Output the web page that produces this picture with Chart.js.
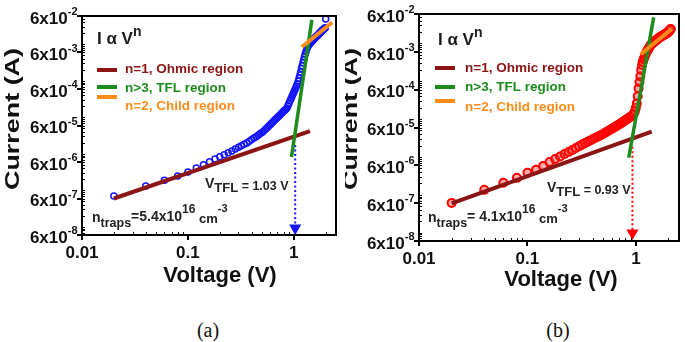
<!DOCTYPE html>
<html>
<head>
<meta charset="utf-8">
<script src="https://cdn.jsdelivr.net/npm/chart.js@4"></script>
<style>
  html, body { margin: 0; padding: 0; background: #fff; }
  body { width: 685px; height: 342px; position: relative; overflow: hidden; }
  canvas { position: absolute; top: 0; }
  .cap { position: absolute; top: 320px; line-height: 20px; font-family: "Liberation Serif", "Times New Roman", serif;
         font-size: 20px; color: #111; transform: translateX(-50%); }
</style>
</head>
<body>
<canvas id="chartA" width="345" height="300" style="left:0px"></canvas>
<canvas id="chartB" width="340" height="300" style="left:345px"></canvas>
<div class="cap" style="left:208px">(a)</div>
<div class="cap" style="left:558px">(b)</div>
<script>
// ---- data ----
const voltageA = [
  0.02,0.04,0.06,0.08,0.10,0.12,0.14,0.16,0.18,0.20,
  0.22,0.24,0.26,0.28,0.30,0.32,0.34,0.36,0.38,0.40,
  0.42,0.44,0.46,0.48,0.50,0.52,0.54,0.56,0.58,0.60,
  0.62,0.64,0.66,0.68,0.70,0.72,0.74,0.76,0.78,0.80,
  0.82,0.84,0.86,0.88,0.90,0.92,0.94,0.96,0.98,1.00,
  1.02,1.04,1.06,1.08,1.10,1.12,1.14,1.16,1.18,1.20,
  1.22,1.24,1.26,1.28,1.30,1.32,1.34,1.36,1.38,1.40,
  1.42,1.44,1.46,1.48,1.50,1.52,1.54,1.56,1.58,1.60,
  1.62,1.64,1.66,1.68,1.70,1.72,1.74,1.76,1.78,1.80,
  1.82,1.84,1.86,1.88,1.90,1.92,1.94,1.96,1.98,2.00
];
const currentA = [
  7.0e-7,1.32e-6,1.9e-6,2.5e-6,3.2e-6,4.08e-6,5.06e-6,6.11e-6,7.2e-6,8.34e-6,
  9.5e-6,1.08e-5,1.21e-5,1.36e-5,1.51e-5,1.67e-5,1.83e-5,2.0e-5,2.23e-5,2.47e-5,
  2.72e-5,2.97e-5,3.26e-5,3.54e-5,3.84e-5,4.22e-5,4.7e-5,5.22e-5,5.78e-5,6.38e-5,
  7.02e-5,7.69e-5,8.45e-5,9.23e-5,9.98e-5,1.08e-4,1.17e-4,1.27e-4,1.36e-4,1.47e-4,
  1.57e-4,1.68e-4,1.8e-4,2.09e-4,2.44e-4,2.84e-4,3.25e-4,3.73e-4,4.28e-4,4.91e-4,
  5.6e-4,6.37e-4,7.24e-4,8.24e-4,9.73e-4,1.19e-3,1.46e-3,1.75e-3,2.17e-3,2.61e-3,
  3.15e-3,3.79e-3,4.58e-3,5.43e-3,6.3e-3,7.2e-3,8.1e-3,8.9e-3,9.6e-3,1.02e-2,
  1.07e-2,1.12e-2,1.17e-2,1.22e-2,1.27e-2,1.32e-2,1.38e-2,1.44e-2,1.5e-2,1.56e-2,
  1.62e-2,1.67e-2,1.73e-2,1.79e-2,1.85e-2,1.93e-2,2.0e-2,2.07e-2,2.12e-2,2.2e-2,
  2.28e-2,2.36e-2,2.43e-2,2.5e-2,2.57e-2,2.64e-2,2.72e-2,2.8e-2,2.88e-2,5.0e-2
];
const voltageB = [
  0.02,0.04,0.06,0.08,0.10,0.12,0.14,0.16,0.18,0.20,
  0.22,0.24,0.26,0.28,0.30,0.32,0.34,0.36,0.38,0.40,
  0.42,0.44,0.46,0.48,0.50,0.52,0.54,0.56,0.58,0.60,
  0.62,0.64,0.66,0.68,0.70,0.72,0.74,0.76,0.78,0.80,
  0.82,0.84,0.86,0.88,0.90,0.92,0.94,0.96,0.98,1.00,
  1.02,1.04,1.06,1.08,1.10,1.12,1.14,1.16,1.18,1.20,
  1.22,1.24,1.26,1.28,1.30,1.32,1.34,1.36,1.38,1.40,
  1.42,1.44,1.46,1.48,1.50,1.52,1.54,1.56,1.58,1.60,
  1.62,1.64,1.66,1.68,1.70,1.72,1.74,1.76,1.78,1.80,
  1.82,1.84,1.86,1.88,1.90,1.92,1.94,1.96,1.98,2.00,
  2.02,2.04,2.06,2.08,2.10
];
const currentB = [
  6.1e-7,1.35e-6,2.07e-6,2.8e-6,3.8e-6,4.6e-6,5.8e-6,7.3e-6,8.8e-6,1.03e-5,
  1.19e-5,1.35e-5,1.53e-5,1.72e-5,1.91e-5,2.12e-5,2.32e-5,2.53e-5,2.74e-5,2.94e-5,
  3.15e-5,3.37e-5,3.6e-5,3.82e-5,4.07e-5,4.36e-5,4.63e-5,4.93e-5,5.24e-5,5.55e-5,
  5.86e-5,6.19e-5,6.53e-5,6.89e-5,7.21e-5,7.6e-5,8.02e-5,8.45e-5,8.89e-5,9.33e-5,
  9.8e-5,1.02e-4,1.07e-4,1.12e-4,1.17e-4,1.23e-4,1.31e-4,1.42e-4,1.62e-4,2.0e-4,
  2.6e-4,4.0e-4,6.5e-4,9.5e-4,1.35e-3,2.0e-3,2.7e-3,3.3e-3,3.8e-3,4.3e-3,
  4.9e-3,5.5e-3,6.0e-3,6.5e-3,7.0e-3,7.6e-3,8.2e-3,8.8e-3,9.4e-3,9.7e-3,
  1.0e-2,1.04e-2,1.07e-2,1.11e-2,1.15e-2,1.19e-2,1.22e-2,1.26e-2,1.3e-2,1.34e-2,
  1.38e-2,1.42e-2,1.45e-2,1.48e-2,1.5e-2,1.54e-2,1.57e-2,1.6e-2,1.63e-2,1.66e-2,
  1.7e-2,1.73e-2,1.77e-2,1.8e-2,1.83e-2,1.86e-2,1.9e-2,1.93e-2,1.97e-2,2.0e-2,
  2.1e-2,2.2e-2,2.3e-2,2.35e-2,2.4e-2
];

// fitted power-law segments (end points)
const ohmicVA = [0.02, 1.42],  ohmicIA = [6.0e-7, 4.2e-5];
const tflVA   = [0.95, 1.48],  tflIA   = [8.2e-6, 4.7e-2];
const childVA = [1.19, 2.3],   childIA = [8.5e-3, 4.0e-2];
const arrowVA = [1.03, 1.03],  arrowIA = [1.75e-5, 9.3e-8];

const ohmicVB = [0.02, 1.40],  ohmicIB = [5.9e-7, 4.7e-5];
const tflVB   = [0.86, 1.46],  tflIB   = [9.5e-6, 4.9e-2];
const childVB = [1.11, 2.14],  childIB = [5.2e-3, 2.4e-2];
const arrowVB = [0.93, 0.93],  arrowIB = [1.85e-5, 9.8e-8];

const xTickValues = [0.01, 0.1, 1];
const xTickLabels = ['0.01', '0.1', '1'];
const yTickValues = [6e-8, 6e-7, 6e-6, 6e-5, 6e-4, 6e-3, 6e-2];
const yTickExps   = ['-8', '-7', '-6', '-5', '-4', '-3', '-2'];
const yTickBase   = '6x10';

const legendLabels = ['n=1, Ohmic region', 'n>3, TFL region', 'n=2, Child region'];
const vtflValues   = ['1.03', '0.93'];
const ntrapsValues = ['=5.4x10', '= 4.1x10'];

// ---- styling ----
const FONT = '"Liberation Sans", Arial, Helvetica, sans-serif';
const MAROON = '#8b1414', GREEN = '#1c8c1c', ORANGE = '#ff8c1a';
Chart.defaults.font.family = FONT;

function font(size, weight) { return weight + ' ' + size + 'px ' + FONT; }

function pts(vs, is) { return vs.map((v, i) => ({x: v, y: is[i]})); }

// draws a run of pieces (text, size, weight, y) one after the other
function runs(ctx, x, list, color) {
  ctx.fillStyle = color;
  ctx.textAlign = 'left';
  ctx.textBaseline = 'middle';
  let cx = x;
  list.forEach(([t, size, weight, y]) => {
    ctx.font = font(size, weight);
    ctx.fillText(t, cx, y);
    cx += ctx.measureText(t).width;
  });
}

function makeOverlay(p) {
  return {
    id: 'overlay_' + p.canvas,
    afterDraw(chart) {
      const ctx = chart.ctx;
      const {left, right, top, bottom} = chart.chartArea;
      const xs = chart.scales.x, ys = chart.scales.y;
      const X = v => v - p.ox;
      ctx.save();

      // minor ticks
      ctx.strokeStyle = '#000';
      ctx.lineWidth = 1;
      ctx.beginPath();
      for (let k = -2; k <= 0; k++) {
        for (let m = 2; m <= 9; m++) {
          const v = m * Math.pow(10, k);
          if (v > xs.max) continue;
          const px = Math.round(xs.getPixelForValue(v)) + 0.5;
          ctx.moveTo(px, bottom); ctx.lineTo(px, bottom - 3);
        }
      }
      for (let k = -8; k <= -2; k++) {
        for (let m = 1; m <= 9; m++) {
          const v = m * Math.pow(10, k);
          if (v < ys.min || v > ys.max) continue;
          const py = Math.round(ys.getPixelForValue(v)) + 0.5;
          ctx.moveTo(left, py); ctx.lineTo(left + 3, py);
        }
      }
      ctx.stroke();

      // frame
      ctx.lineWidth = 2;
      ctx.strokeRect(left, top, right - left, bottom - top);

      // y tick labels with superscript exponent
      ctx.fillStyle = '#111';
      ctx.textAlign = 'right';
      ctx.textBaseline = 'middle';
      yTickValues.forEach((v, i) => {
        const py = ys.getPixelForValue(v);
        const lx = left - 4.5;
        ctx.font = font(11, 'bold');
        const sw = ctx.measureText(yTickExps[i]).width;
        ctx.fillText(yTickExps[i], lx, py - 4);
        ctx.font = font(17, 'bold');
        ctx.fillText(yTickBase, lx - sw, py + 3);
      });

      // axis titles
      ctx.fillStyle = '#111';
      ctx.font = font(22, 'bold');
      ctx.textAlign = 'center';
      ctx.textBaseline = 'alphabetic';
      ctx.fillText('Voltage (V)', X(p.xTitle.x), p.xTitle.y);

      ctx.save();
      ctx.translate(X(p.yTitle.x), p.yTitle.y);
      ctx.rotate(-Math.PI / 2);
      ctx.font = font(20, 'bold');
      const w = ctx.measureText('Current (A)').width;
      ctx.scale(p.yTitle.len / w, 1);
      ctx.fillText('Current (A)', 0, 0);
      ctx.restore();

      // I α V^n
      runs(ctx, X(p.law.x), [['I \u03b1 V', 17, 'bold', p.law.y], ['n', 14, 'bold', p.law.y - 7]], '#1a1a1a');

      // legend
      const lineCols = [MAROON, GREEN, ORANGE];
      ctx.lineWidth = 4;
      legendLabels.forEach((t, i) => {
        ctx.strokeStyle = lineCols[i];
        ctx.beginPath();
        ctx.moveTo(X(p.leg.lineX), p.leg.lineY[i]);
        ctx.lineTo(X(p.leg.lineX + 20), p.leg.lineY[i]);
        ctx.stroke();
        runs(ctx, X(p.leg.textX), [[t, 13.5, 'bold', p.leg.rows[i]]], lineCols[i]);
      });

      // V_TFL
      const vy = p.vtfl.y;
      runs(ctx, X(p.vtfl.x), [['V', 14, 'bold', vy], ['TFL', 13, 'bold', vy + 4],
        [' = ' + p.vtfl.value + ' V', 12.5, 'bold', vy + 3]], '#222');

      // n_traps
      const ny = p.nt.y;
      runs(ctx, X(p.nt.x), [['n', 14, 'bold', ny + 1], ['traps', 12.5, 'bold', ny + 7],
        [p.nt.text, 14, 'bold', ny], ['16', 12, 'bold', ny - 7], [' cm', 13, 'bold', ny + 2],
        ['-3', 11, 'bold', ny - 8]], '#222');

      ctx.restore();
    }
  };
}

function makePanel(p) {
  const lineSet = (vs, is, color, width, order) => ({
    data: pts(vs, is), showLine: true, borderColor: color, borderWidth: width,
    pointRadius: 0, order: order
  });
  const config = {
    type: 'scatter',
    data: {
      datasets: [
        lineSet(p.ohmic[0], p.ohmic[1], MAROON, 4, 3),
        lineSet(p.tfl[0], p.tfl[1], GREEN, 3.5, 2),
        lineSet(p.child[0], p.child[1], ORANGE, 4, 1),
        {
          data: pts(p.arrow[0], p.arrow[1]), showLine: true, borderColor: p.color,
          borderWidth: 2, borderDash: [2, 2.5], pointRadius: [0, 5], pointStyle: 'triangle',
          pointRotation: 180, pointBackgroundColor: p.color, pointBorderColor: p.color, order: 4
        },
        {
          data: pts(p.volt, p.curr), showLine: false, pointRadius: p.radius,
          pointBorderWidth: p.pointBorder, pointBorderColor: p.color,
          pointBackgroundColor: p.fill, order: 10
        }
      ]
    },
    options: {
      responsive: false,
      animation: false,
      devicePixelRatio: 1,
      layout: { autoPadding: false, padding: { left: 0, top: p.area.top, right: p.cw - p.area.right, bottom: 0 } },
      scales: {
        x: {
          type: 'logarithmic', min: 0.01, max: 2.5, position: 'bottom',
          afterBuildTicks: s => { s.ticks = xTickValues.map(v => ({ value: v })); },
          afterFit: s => { s.height = p.ch - p.area.bottom; },
          ticks: {
            autoSkip: false, maxRotation: 0, padding: 3, color: '#111',
            font: { size: 17, weight: 'bold' },
            callback: (v, i) => xTickLabels[i]
          },
          grid: { drawOnChartArea: false, drawTicks: true, tickLength: 5, lineWidth: 2, color: '#000' },
          border: { display: false }
        },
        y: {
          type: 'logarithmic', min: 6e-8, max: 6e-2,
          afterBuildTicks: s => { s.ticks = yTickValues.map(v => ({ value: v })); },
          afterFit: s => { s.width = p.area.left; },
          ticks: { display: false },
          grid: { drawOnChartArea: false, drawTicks: true, tickLength: 5, lineWidth: 2, color: '#000' },
          border: { display: false }
        }
      },
      plugins: { legend: { display: false }, tooltip: { enabled: false } }
    },
    plugins: [makeOverlay(p)]
  };
  new Chart(document.getElementById(p.canvas), config);
}

makePanel({
  canvas: 'chartA', ox: 0, cw: 345, ch: 300,
  area: { left: 82, right: 336, top: 16, bottom: 235 },
  volt: voltageA, curr: currentA,
  ohmic: [ohmicVA, ohmicIA], tfl: [tflVA, tflIA], child: [childVA, childIA], arrow: [arrowVA, arrowIA],
  color: '#1414ff', fill: 'rgba(0,0,0,0)', radius: 3, pointBorder: 1.5,
  xTitle: { x: 220, y: 282 }, yTitle: { x: 19, y: 119, len: 142 },
  law: { x: 97, y: 39 },
  leg: { lineX: 97, textX: 125, rows: [69, 88, 106], lineY: [70, 87, 97] },
  vtfl: { x: 205, y: 184, value: vtflValues[0] },
  nt: { x: 92, y: 217, text: ntrapsValues[0] }
});

makePanel({
  canvas: 'chartB', ox: 345, cw: 340, ch: 300,
  area: { left: 74, right: 334, top: 14, bottom: 241 },
  volt: voltageB, curr: currentB,
  ohmic: [ohmicVB, ohmicIB], tfl: [tflVB, tflIB], child: [childVB, childIB], arrow: [arrowVB, arrowIB],
  color: '#ff0000', fill: 'rgba(255,70,70,0.45)', radius: 4, pointBorder: 2,
  xTitle: { x: 561, y: 286 }, yTitle: { x: 357, y: 119, len: 142 },
  law: { x: 438, y: 40 },
  leg: { lineX: 435, textX: 465, rows: [68, 87, 107], lineY: [68, 87, 101] },
  vtfl: { x: 547, y: 188, value: vtflValues[1] },
  nt: { x: 428, y: 217, text: ntrapsValues[1] }
});
</script>
</body>
</html>
